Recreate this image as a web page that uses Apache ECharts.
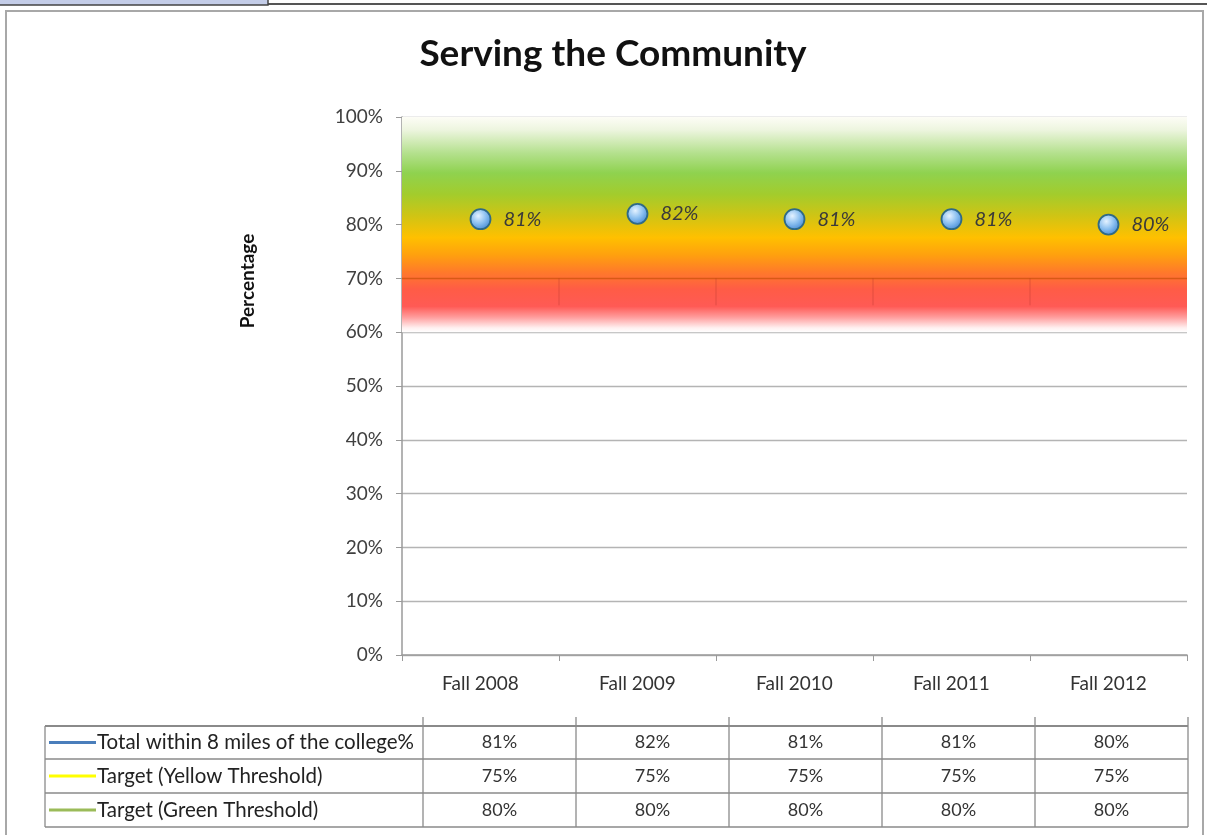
<!DOCTYPE html>
<html><head><meta charset="utf-8">
<script src="https://cdn.jsdelivr.net/npm/echarts@6/dist/echarts.min.js"></script>
<style>html,body{margin:0;padding:0;background:#fff}#c{width:1207px;height:835px}</style>
</head><body><div id="c"></div>
<script>
var categories = ['Fall 2008','Fall 2009','Fall 2010','Fall 2011','Fall 2012'];
var totalWithin8 = [81, 82, 81, 81, 80];
var yellowTarget = [75, 75, 75, 75, 75];
var greenTarget = [80, 80, 80, 80, 80];
var seriesNames = ['Total within 8 miles of the college%','Target (Yellow Threshold)','Target (Green Threshold)'];
var yTicks = [0,10,20,30,40,50,60,70,80,90,100];

var FONT = 'Lato, "Open Sans", sans-serif';
var chart = echarts.init(document.getElementById('c'));

// table layout
var tblLeft = 45, tblColStart = 423, colW = 153, tblTop = 726, rowH = [33, 34, 34];
var rows = [totalWithin8, yellowTarget, greenTarget];
var keyColors = ['#4a7ebb', '#ffff00', '#9bbb59'];
var g = [];
// frame
g.push({type:'rect', shape:{x:6,y:11,width:1197,height:830}, style:{fill:'none', stroke:'#a8a8a8', lineWidth:2}, silent:true});
g.push({type:'line', shape:{x1:268,y1:4,x2:1207,y2:4}, style:{stroke:'#555', lineWidth:2}});
g.push({type:'rect', shape:{x:-2,y:-2,width:270,height:7}, style:{fill:'#c4cde8', stroke:'#444', lineWidth:1.5}});
// table
var tblRight = tblColStart + colW * categories.length;
var y = tblTop;
var ys = [tblTop];
for (var r = 0; r < rows.length; r++) { y += rowH[r]; ys.push(y); }
ys.forEach(function(yy, i){
  g.push({type:'line', shape:{x1:tblLeft,y1:yy,x2:tblRight,y2:yy}, style:{stroke:'#8a8a8a', lineWidth: i===0 ? 2 : 1.3}});
});
g.push({type:'line', shape:{x1:tblLeft,y1:tblTop,x2:tblLeft,y2:ys[ys.length-1]}, style:{stroke:'#8a8a8a', lineWidth:1.3}});
for (var c = 0; c <= categories.length; c++) {
  var xx = tblColStart + colW * c;
  g.push({type:'line', shape:{x1:xx,y1:717,x2:xx,y2:ys[ys.length-1]}, style:{stroke:'#8a8a8a', lineWidth:1.3}});
}
for (var r2 = 0; r2 < rows.length; r2++) {
  var cy = (ys[r2] + ys[r2+1]) / 2;
  g.push({type:'line', shape:{x1:49,y1:cy,x2:96,y2:cy}, style:{stroke:keyColors[r2], lineWidth:3}});
  g.push({type:'text', x:97, y:cy, style:{text:seriesNames[r2], font:'20.5px '+FONT, fill:'#222', verticalAlign:'middle', align:'left'}});
  rows[r2].forEach(function(v, ci){
    g.push({type:'text', x: tblColStart + colW*ci + colW/2, y: cy, style:{text: v + '%', font:'18px '+FONT, fill:'#333', align:'center', verticalAlign:'middle'}});
  });
}
// y axis name
g.push({type:'text', x:248, y:281, rotation:Math.PI/2, style:{text:'Percentage', font:'bold 19px '+FONT, fill:'#111', align:'center', verticalAlign:'middle'}});

chart.setOption({
  animation:false,
  backgroundColor:'#fff',
  title:{text:'Serving the Community', left:608, textAlign:'center', top:31, textStyle:{fontFamily:FONT, fontWeight:'bold', fontSize:37, color:'#111'}},
  grid:{left:402, right:20, top:117, bottom:180},
  xAxis:{type:'category', data:categories, boundaryGap:true,
    axisLine:{lineStyle:{color:'#9a9a9a', width:1.5}},
    axisTick:{show:true, length:6, lineStyle:{color:'#9a9a9a'}},
    axisLabel:{fontFamily:FONT, fontSize:19, color:'#333', margin:19}},
  yAxis:{type:'value', min:0, max:100, interval:10,
    axisLine:{show:true, lineStyle:{color:'#9a9a9a', width:1.5}},
    axisTick:{show:true, inside:false, length:6, lineStyle:{color:'#9a9a9a'}},
    axisLabel:{fontFamily:FONT, fontSize:19, color:'#404040', margin:19, formatter:function(v){return v+'%';}},
    splitLine:{lineStyle:{color:'#b4b4b4', width:1.3}}},
  graphic:g,
  series:[{
    name:seriesNames[0], type:'line', data:totalWithin8,
    lineStyle:{width:0, opacity:0}, symbol:'circle', symbolSize:20,
    itemStyle:{color:new echarts.graphic.RadialGradient(0.4,0.35,0.7,[{offset:0,color:'#e4f2ff'},{offset:0.5,color:'#8cc0f0'},{offset:1,color:'#3f86d4'}]), borderColor:'#2f6a86', borderWidth:1.8},
    label:{show:true, position:'right', distance:12, formatter:function(p){return p.value+'%';}, fontFamily:FONT, fontStyle:'italic', fontSize:20, color:'#3a3a3a'},
    z:5,
    markArea:{silent:true, z:1,
      itemStyle:{color:new echarts.graphic.LinearGradient(0,0,0,1,[
        {offset:0,color:'#fdfdf6'},
        {offset:0.06,color:'#edf5df'},
        {offset:0.17,color:'#b3e08c'},
        {offset:0.26,color:'#8fd24f'},
        {offset:0.36,color:'#a3cc2c'},
        {offset:0.46,color:'#d0c414'},
        {offset:0.56,color:'#ffc000'},
        {offset:0.64,color:'#ffa10e'},
        {offset:0.72,color:'#ff7a2a'},
        {offset:0.8,color:'#ff5c46'},
        {offset:0.88,color:'#ff5a55'},
        {offset:0.93,color:'#ff9c9c'},
        {offset:0.98,color:'#fff0f0'},
        {offset:1,color:'#ffffff'}])},
      data:[[{yAxis:60},{yAxis:100}]]},
    markLine:{silent:true, symbol:'none', label:{show:false}, z:2,
      lineStyle:{color:'rgba(200,80,10,0.7)', type:'solid', width:1.3},
      data:[{yAxis:70}]}
  }]
});
// faint category dividers inside the red band (at category boundaries)
var extra = [];
for (var k = 1; k < categories.length; k++) {
  var a = chart.convertToPixel({gridIndex:0}, [k - 1, 70]);
  var b = chart.convertToPixel({gridIndex:0}, [k, 65]);
  var bx = (a[0] + b[0]) / 2;
  extra.push({type:'line', shape:{x1:bx, y1:a[1], x2:bx, y2:b[1]}, style:{stroke:'rgba(170,50,40,0.35)', lineWidth:1}, z:10});
}
chart.setOption({graphic: g.concat(extra)});
</script></body></html>
